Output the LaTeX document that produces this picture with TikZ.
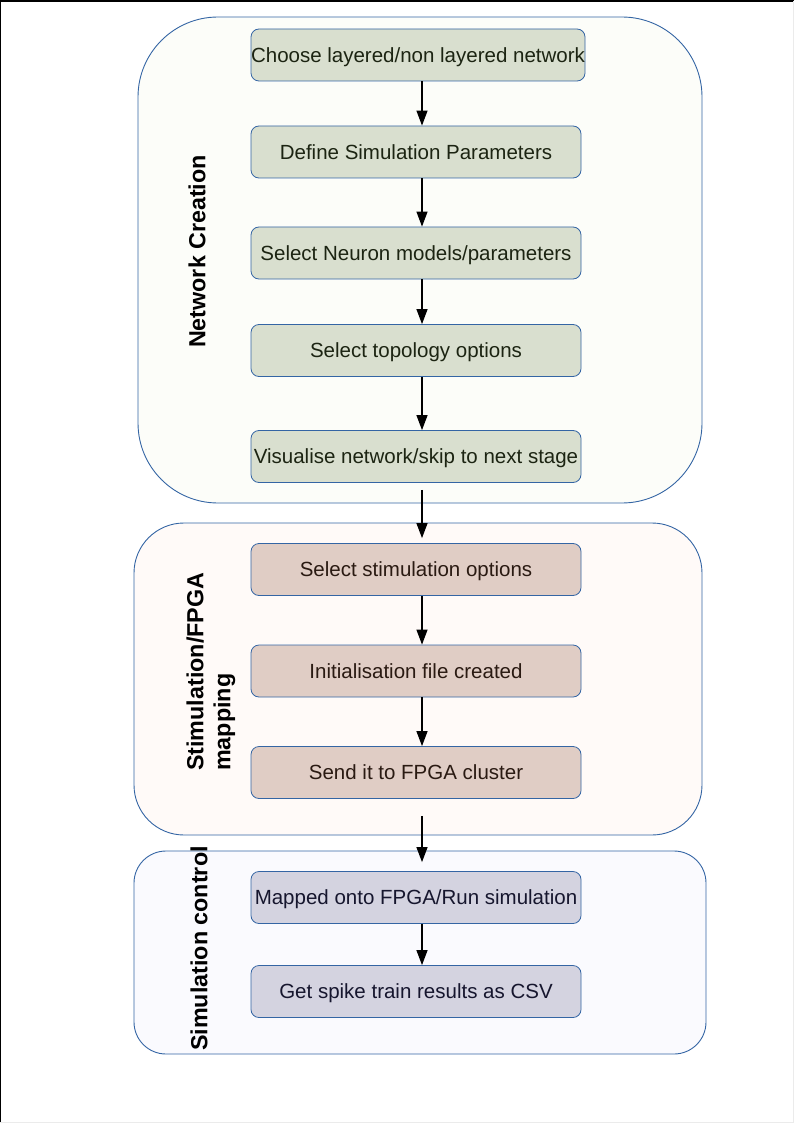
\documentclass[tikz,border=0pt]{standalone}
\usepackage{fontspec}
\setmainfont{Liberation Sans}
\usetikzlibrary{arrows.meta}
\definecolor{frameblue}{HTML}{3465A4}
\definecolor{netbg}{HTML}{FCFDF9}
\definecolor{stimbg}{HTML}{FFFAF8}
\definecolor{ctrlbg}{HTML}{FAFAFE}
\definecolor{netbox}{HTML}{D9DFCF}
\definecolor{stimbox}{HTML}{E0CDC5}
\definecolor{ctrlbox}{HTML}{D4D3E0}
\definecolor{nettext}{HTML}{1C2412}
\definecolor{stimtext}{HTML}{2A1A12}
\definecolor{ctrltext}{HTML}{16162E}
\begin{document}
\begin{tikzpicture}[x=1pt,y=-1pt,
  stage/.style={draw=frameblue, line width=0.9pt},
  stepbox/.style={draw=frameblue, line width=0.8pt, rounded corners=8pt,
    minimum width=330pt, minimum height=52pt, inner sep=0pt,
    text height=16pt, text depth=1.6pt,
    font=\fontsize{20.5}{24}\selectfont},
  netstep/.style={stepbox, fill=netbox, text=nettext},
  stimstep/.style={stepbox, fill=stimbox, text=stimtext},
  ctrlstep/.style={stepbox, fill=ctrlbox, text=ctrltext},
  stagelabel/.style={rotate=90, inner sep=0pt, font=\bfseries\fontsize{23.3}{27}\selectfont},
  arr/.style={-{Triangle[length=15pt,width=11pt]}, line width=1.2pt, black}]
  \useasboundingbox (0,0) rectangle (794,1123);
  % page frame
  \draw[black, line width=2pt] (0,1123) -- (0,1) -- (794,1);
  \draw[black!8, line width=1pt] (793.5,1) -- (793.5,1122.5) -- (0,1122.5);

  % stage containers
  \draw[stage, fill=netbg, rounded corners=80pt] (138,17) rectangle (702,503);
  \draw[stage, fill=stimbg, rounded corners=50pt] (134,523) rectangle (702,835);
  \draw[stage, fill=ctrlbg, rounded corners=32pt] (134,851) rectangle (706,1054);

  % stage labels
  \node[stagelabel] (lnet) at (197,251.5) {Network Creation};
  \node[stagelabel, anchor=west, align=left] (lstim) at (211,771) {Stimulation/FPGA\\mapping};
  \node[stagelabel] (lctrl) at (199,948.5) {Simulation control};

  % steps
  \node[netstep, minimum width=334pt] (b1) at (418,55) {Choose layered/non layered network};
  \node[netstep] (b2) at (416,152) {Define Simulation Parameters};
  \node[netstep] (b3) at (416,253) {Select Neuron models/parameters};
  \node[netstep] (b4) at (416,350.5) {Select topology options};
  \node[netstep] (b5) at (416,456.5) {Visualise network/skip to next stage};
  \node[stimstep] (b6) at (416,569.5) {Select stimulation options};
  \node[stimstep] (b7) at (416,671) {Initialisation file created};
  \node[stimstep] (b8) at (416,772.5) {Send it to FPGA cluster};
  \node[ctrlstep] (b9) at (416,897.5) {Mapped onto FPGA/Run simulation};
  \node[ctrlstep] (b10) at (416,991.5) {Get spike train results as CSV};

  % flow arrows
  \coordinate (ax) at (422,0);
  \draw[arr] (b1.south -| ax) -- (b2.north -| ax);
  \draw[arr] (b2.south -| ax) -- (b3.north -| ax);
  \draw[arr] (b3.south -| ax) -- (b4.north -| ax);
  \draw[arr] (b4.south -| ax) -- (b5.north -| ax);
  \draw[arr, shorten <=7pt, shorten >=5pt] (b5.south -| ax) -- (b6.north -| ax);
  \draw[arr] (b6.south -| ax) -- (b7.north -| ax);
  \draw[arr] (b7.south -| ax) -- (b8.north -| ax);
  \draw[arr, shorten <=17pt, shorten >=9pt] (b8.south -| ax) -- (b9.north -| ax);
  \draw[arr] (b9.south -| ax) -- (b10.north -| ax);
\end{tikzpicture}
\end{document}
